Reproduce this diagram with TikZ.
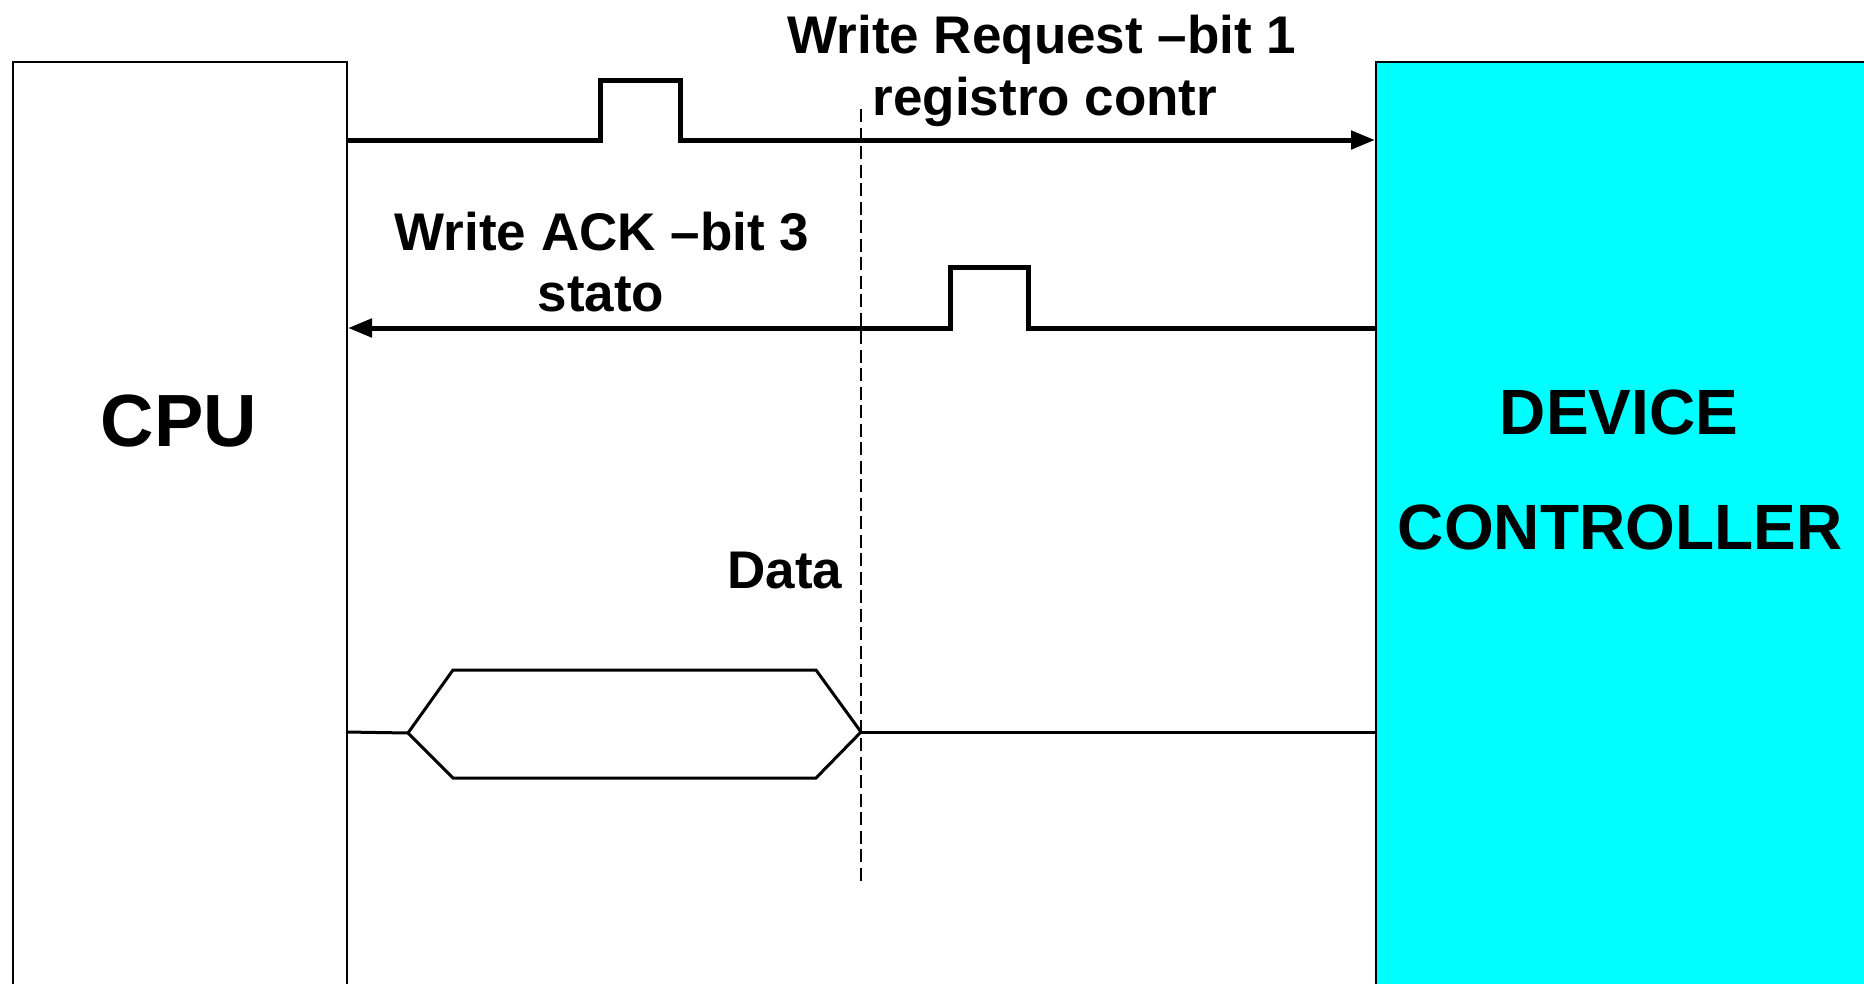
\documentclass[tikz,border=0pt]{standalone}
\usepackage{fontspec}
\setmainfont{Liberation Sans}
\usetikzlibrary{arrows.meta}
\definecolor{devcyan}{RGB}{0,255,255}
\begin{document}
\begin{tikzpicture}[x=1pt,y=-1pt,
  unitbox/.style={draw=black, line width=2pt, inner sep=0pt, anchor=north west},
  sig/.style={line width=5pt, line join=miter},
  sigtip/.style={-{Triangle[length=24pt,width=18pt]}},
  bus/.style={line width=3pt, line join=miter},
  timing/.style={line width=2.5pt, dash pattern=on 13pt off 5.5pt},
  lbl/.style={font=\fontsize{53}{62}\selectfont\bfseries, inner sep=0pt, anchor=base},
  unitname/.style={font=\fontsize{64}{74}\selectfont\bfseries, inner sep=0pt, anchor=base}]
\useasboundingbox (0,0) rectangle (1864,983);
\clip (0,0) rectangle (1864,983);

% the two units
\node[unitbox, minimum width=334pt, minimum height=940pt] (cpu) at (12,61) {};
\node[unitbox, fill=devcyan, minimum width=500pt, minimum height=940pt] (dev) at (1375,61) {};

\node[unitname, font=\fontsize{74}{84}\selectfont\bfseries] (cpulbl) at (179,446) {CPU};
\node[unitname] (devlbl1) at (1619,434) {DEVICE};
\node[unitname] (devlbl2) at (1620,549) {CONTROLLER};

% write request: CPU -> controller
\coordinate (wrA) at (346,140);
\draw[sig, sigtip] (wrA) -- (600,140) -- (600,80) -- (680,80) -- (680,140) -- (dev.west |- wrA);
\node[lbl] (wrlbl1) at (1042,53) {Write Request –bit 1};
\node[lbl] (wrlbl2) at (1045,115) {registro contr};

% write acknowledge: controller -> CPU
\coordinate (ackA) at (1375,328);
\draw[sig, sigtip] (ackA) -- (1028,328) -- (1028,267) -- (950,267) -- (950,328) -- (cpu.east |- ackA);
\node[lbl] (acklbl1) at (602,250) {Write ACK –bit 3};
\node[lbl] (acklbl2) at (601,311) {stato};

% data bus
\coordinate (busL) at (346,732);
\coordinate (busX) at (408,733);
\coordinate (busR) at (861,732);
\draw[bus] (busL) -- (busX);
\draw[bus] (busX) -- (453,670) -- (816,670) -- (busR) -- (816,778) -- (453,778) -- cycle;
\draw[bus] (busR) -- (dev.west |- busR);
\node[lbl] (datalbl) at (785,588) {Data};

% timing marker
\coordinate (tTop) at (861,109);
\coordinate (tBot) at (861,883);
\draw[timing] (tTop) -- (tBot);
\end{tikzpicture}
\end{document}
